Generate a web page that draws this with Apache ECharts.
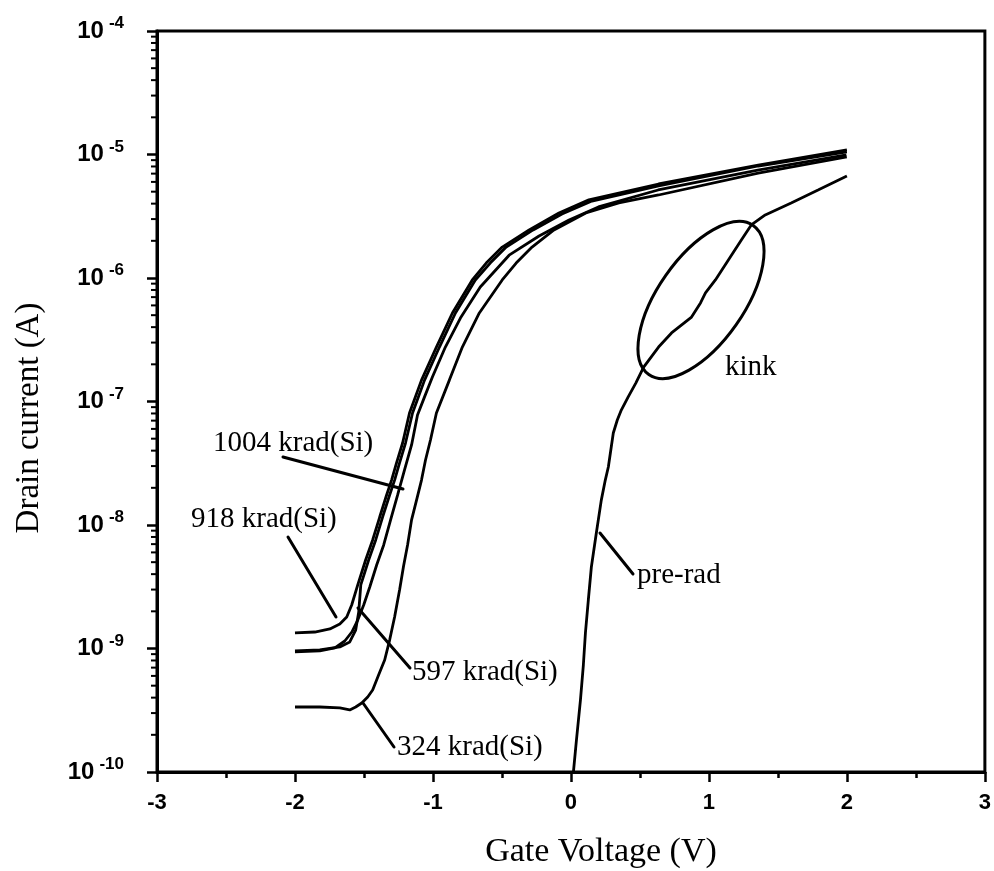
<!DOCTYPE html>
<html>
<head>
<meta charset="utf-8">
<script src="https://cdn.jsdelivr.net/npm/echarts@6/dist/echarts.min.js"></script>
<style>
  html, body { margin: 0; padding: 0; background: #ffffff; }
  #chart { width: 994px; height: 871px; }
</style>
</head>
<body>
<div id="chart"></div>
<script>
// Gate voltage (V) and drain current (A) for each total dose
const vg918 = [-2.0, -1.856, -1.747, -1.675, -1.625, -1.589, -1.545, -1.488, -1.437, -1.386, -1.336, -1.300, -1.264, -1.220, -1.170, -1.083, -0.975, -0.859, -0.715, -0.614, -0.498, -0.303, -0.087, 0.130, 0.635, 1.357, 2.0];
const id918 = [1.34e-9, 1.36e-9, 1.44e-9, 1.58e-9, 1.80e-9, 2.25e-9, 3.27e-9, 5.21e-9, 7.57e-9, 1.16e-8, 1.75e-8, 2.31e-8, 3.18e-8, 4.61e-8, 8.07e-8, 1.49e-7, 2.76e-7, 5.21e-7, 9.64e-7, 1.32e-6, 1.78e-6, 2.45e-6, 3.36e-6, 4.29e-6, 5.77e-6, 8.22e-6, 1.09e-5];

const vg1004 = [-2.0, -1.820, -1.675, -1.603, -1.560, -1.538, -1.523, -1.466, -1.415, -1.365, -1.314, -1.278, -1.242, -1.199, -1.148, -1.061, -0.953, -0.837, -0.693, -0.585, -0.469, -0.274, -0.065, 0.152, 0.635, 1.357, 2.0];
const id1004 = [9.55e-10, 9.73e-10, 1.03e-9, 1.13e-9, 1.41e-9, 1.98e-9, 3.27e-9, 5.21e-9, 7.57e-9, 1.16e-8, 1.75e-8, 2.31e-8, 3.18e-8, 4.61e-8, 8.07e-8, 1.49e-7, 2.76e-7, 5.21e-7, 9.64e-7, 1.32e-6, 1.78e-6, 2.45e-6, 3.30e-6, 4.20e-6, 5.56e-6, 8.07e-6, 1.05e-5];

const vg597 = [-2.0, -1.820, -1.711, -1.639, -1.588, -1.545, -1.502, -1.458, -1.408, -1.357, -1.307, -1.256, -1.206, -1.155, -1.112, -1.061, -1.004, -0.910, -0.801, -0.657, -0.448, -0.231, -0.014, 0.199, 0.632, 1.354, 1.996];
const id597 = [9.38e-10, 9.55e-10, 1.01e-9, 1.15e-9, 1.36e-9, 1.70e-9, 2.25e-9, 3.15e-9, 4.74e-9, 6.89e-9, 1.10e-8, 1.75e-8, 2.79e-8, 4.45e-8, 7.78e-8, 1.09e-7, 1.58e-7, 2.76e-7, 4.74e-7, 8.45e-7, 1.53e-6, 2.19e-6, 2.95e-6, 3.76e-6, 5.16e-6, 7.48e-6, 9.91e-6];

const vg324 = [-2.0, -1.820, -1.675, -1.603, -1.560, -1.516, -1.473, -1.437, -1.394, -1.350, -1.314, -1.278, -1.242, -1.213, -1.184, -1.155, -1.119, -1.083, -1.054, -1.018, -0.975, -0.881, -0.787, -0.664, -0.498, -0.397, -0.282, -0.123, 0.108, 0.347, 0.635, 1.357, 1.999];
const id324 = [3.36e-10, 3.36e-10, 3.30e-10, 3.18e-10, 3.36e-10, 3.62e-10, 4.05e-10, 4.61e-10, 6.10e-10, 8.07e-10, 1.17e-9, 1.80e-9, 2.98e-9, 4.66e-9, 6.89e-9, 1.10e-8, 1.59e-8, 2.31e-8, 3.36e-8, 4.88e-8, 8.07e-8, 1.49e-7, 2.76e-7, 5.21e-7, 9.64e-7, 1.32e-6, 1.78e-6, 2.45e-6, 3.36e-6, 4.05e-6, 4.70e-6, 7.08e-6, 9.55e-6];

const vgPre = [0.018, 0.040, 0.069, 0.090, 0.105, 0.126, 0.148, 0.184, 0.220, 0.249, 0.271, 0.307, 0.336, 0.365, 0.415, 0.470, 0.527, 0.635, 0.729, 0.874, 0.939, 0.975, 1.047, 1.141, 1.235, 1.307, 1.408, 1.596, 1.791, 2.0];
const idPre = [1.0e-10, 1.82e-10, 3.83e-10, 7.35e-10, 1.34e-9, 2.47e-9, 4.57e-9, 8.61e-9, 1.59e-8, 2.31e-8, 2.95e-8, 5.56e-8, 7.08e-8, 8.53e-8, 1.09e-7, 1.41e-7, 1.90e-7, 2.76e-7, 3.59e-7, 4.83e-7, 6.28e-7, 7.57e-7, 9.64e-7, 1.40e-6, 2.03e-6, 2.69e-6, 3.24e-6, 4.05e-6, 5.16e-6, 6.70e-6];

// Axis ranges and tick structure
const xMin = -3, xMax = 3, xStep = 1;
const yMin = 1e-10, yMax = 1e-4;
const yDecades = [-10, -9, -8, -7, -6, -5];
const yMinorMultipliers = [2, 3, 4, 5, 6, 7, 8, 9];

const pairs = (xs, ys) => xs.map((x, i) => [x, ys[i]]);

const minorTickValues = [];
yDecades.forEach(d => yMinorMultipliers.forEach(m => minorTickValues.push(m * Math.pow(10, d))));

const curveStyle = { color: '#000', width: 2.8 };
const lineSeries = (name, xs, ys) => ({
  name, type: 'line', data: pairs(xs, ys), showSymbol: false, symbol: 'none',
  lineStyle: curveStyle, itemStyle: { color: '#000' }, z: 3, clip: true
});

const serif = '"Liberation Serif", "Times New Roman", serif';
const sans = '"Liberation Sans", Arial, sans-serif';

const chart = echarts.init(document.getElementById('chart'), null, { renderer: 'canvas' });

// Callout leaders and labels (pixel layout)
const annoFont = '29px ' + serif;
const leaders = [
  [283, 457, 403, 489],
  [288, 537, 336, 617],
  [358, 608, 410, 668],
  [363, 703, 394, 747],
  [600, 533, 633, 574]
];
const labels = [
  ['1004 krad(Si)', 213, 443],
  ['918 krad(Si)', 191, 519],
  ['597 krad(Si)', 412, 672],
  ['324 krad(Si)', 397, 747],
  ['pre-rad', 637, 575],
  ['kink', 725, 367]
];

const graphics = [];
leaders.forEach(l => graphics.push({
  type: 'line', silent: true, z: 10,
  shape: { x1: l[0], y1: l[1], x2: l[2], y2: l[3] },
  style: { stroke: '#000', lineWidth: 3, lineCap: 'round' }
}));
labels.forEach(t => graphics.push({
  type: 'text', silent: true, z: 10, x: t[1], y: t[2],
  style: { text: t[0], font: annoFont, fill: '#000', align: 'left', verticalAlign: 'middle' }
}));
graphics.push({
  type: 'ellipse', silent: true, z: 10, x: 701, y: 300,
  rotation: 55 * Math.PI / 180,
  shape: { cx: 0, cy: 0, rx: 91, ry: 43 },
  style: { fill: 'none', stroke: '#000', lineWidth: 3 }
});
graphics.push({
  type: 'text', silent: true, x: 601, y: 852,
  style: { text: 'Gate Voltage (V)', font: '34px ' + serif, fill: '#000', align: 'center', verticalAlign: 'middle' }
});
graphics.push({
  type: 'text', silent: true, x: 29, y: 418, rotation: Math.PI / 2,
  style: { text: 'Drain current (A)', font: '33px ' + serif, fill: '#000', align: 'center', verticalAlign: 'middle' }
});

chart.setOption({
  animation: false,
  backgroundColor: '#ffffff',
  grid: {
    left: 157, right: 7, top: 31, bottom: 99,
    show: true, borderColor: '#000', borderWidth: 3, backgroundColor: 'transparent'
  },
  xAxis: {
    type: 'value', min: xMin, max: xMax, interval: xStep,
    axisLine: { show: true, lineStyle: { color: '#000', width: 3 } },
    axisTick: { show: true, inside: false, length: 10, lineStyle: { color: '#000', width: 2.5 } },
    minorTick: { show: true, splitNumber: 2, length: 6, lineStyle: { color: '#000', width: 2.5 } },
    splitLine: { show: false },
    axisLabel: { margin: 20, color: '#000', fontFamily: sans, fontWeight: 'bold', fontSize: 22 }
  },
  yAxis: {
    type: 'log', logBase: 10, min: yMin, max: yMax,
    axisLine: { show: true, onZero: false, lineStyle: { color: '#000', width: 3 } },
    axisTick: { show: true, inside: false, length: 10, lineStyle: { color: '#000', width: 2.5 } },
    splitLine: { show: false },
    axisLabel: {
      margin: 33,
      formatter: v => '{b|10}{s|' + Math.round(Math.log10(v)) + '}',
      rich: {
        b: { fontFamily: sans, fontWeight: 'bold', fontSize: 24, color: '#000', lineHeight: 32 },
        s: { fontFamily: sans, fontWeight: 'bold', fontSize: 17, color: '#000', verticalAlign: 'top', padding: [0, 0, 0, 5] }
      }
    }
  },
  series: [
    lineSeries('918 krad(Si)', vg918, id918),
    lineSeries('1004 krad(Si)', vg1004, id1004),
    lineSeries('597 krad(Si)', vg597, id597),
    lineSeries('324 krad(Si)', vg324, id324),
    lineSeries('pre-rad', vgPre, idPre),
    {
      name: 'minor ticks', type: 'custom', silent: true, clip: false, z: 4,
      data: minorTickValues.map(v => [xMin, v]),
      renderItem: (params, api) => {
        const p = api.coord([api.value(0), api.value(1)]);
        return {
          type: 'line',
          shape: { x1: p[0] - 6, y1: p[1], x2: p[0], y2: p[1] },
          style: { stroke: '#000', lineWidth: 2 }
        };
      }
    }
  ],
  graphic: graphics
});
</script>
</body>
</html>
